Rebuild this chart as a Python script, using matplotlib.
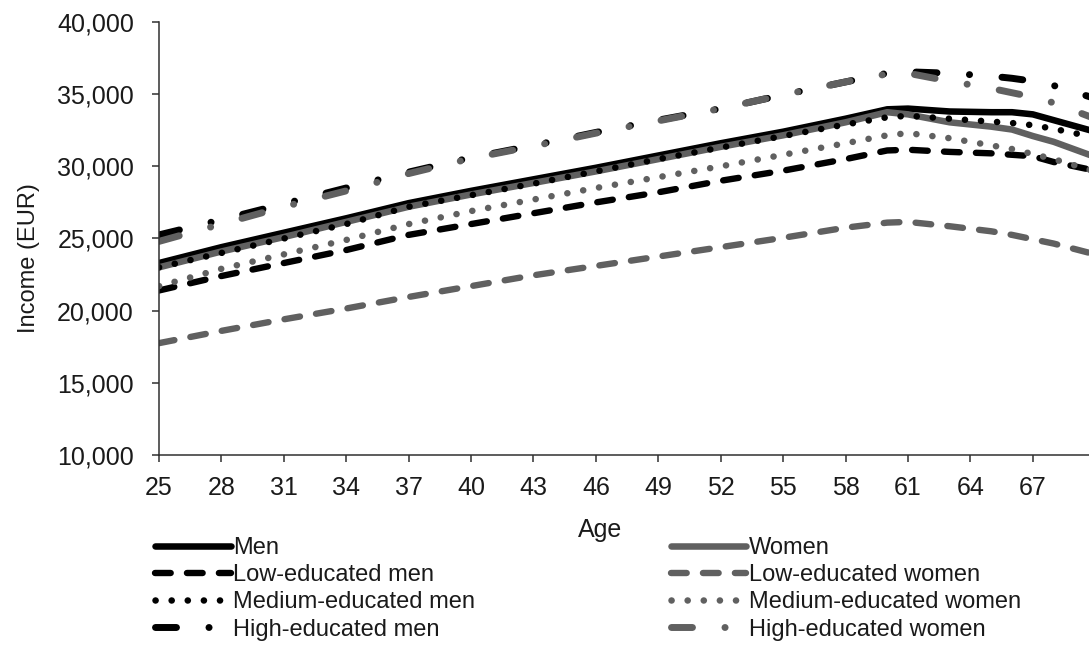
import matplotlib
matplotlib.use('Agg')
import matplotlib.pyplot as plt
from matplotlib.ticker import FuncFormatter

plt.rcParams['font.family'] = ['Liberation Sans', 'DejaVu Sans']
plt.rcParams['lines.scale_dashes'] = False

ages = [25, 28, 31, 34, 37, 40, 43, 46, 49, 52, 55, 58, 60, 61, 63, 65, 66, 67, 68, 70]

men = [23300, 24400, 25400, 26400, 27450, 28300, 29100, 29900, 30750, 31600, 32400, 33300,
       33950, 34000, 33800, 33750, 33750, 33600, 33200, 32400]
women = [23000, 24100, 25100, 26150, 27200, 28050, 28850, 29650, 30500, 31350, 32150, 33050,
         33750, 33600, 33050, 32750, 32550, 32100, 31700, 30650]
low_men = [21400, 22400, 23300, 24200, 25250, 26000, 26750, 27500, 28200, 29000, 29700, 30500,
           31100, 31150, 31000, 30900, 30800, 30700, 30300, 29700]
low_women = [17750, 18600, 19400, 20150, 20950, 21700, 22450, 23100, 23750, 24400, 25050, 25750,
             26100, 26150, 25850, 25500, 25250, 24950, 24650, 23900]
med_men = [23000, 24000, 25000, 26000, 27200, 28000, 28800, 29650, 30500, 31300, 32100, 32900,
           33400, 33500, 33300, 33100, 33000, 32850, 32600, 32000]
med_women = [21700, 22900, 23900, 24900, 26000, 26900, 27700, 28500, 29250, 30000, 30800, 31600,
             32150, 32300, 31950, 31450, 31200, 30850, 30500, 29650]
high_men = [25250, 26300, 27400, 28500, 29600, 30600, 31450, 32350, 33200, 34000, 34950, 35850,
            36450, 36550, 36450, 36250, 36100, 35900, 35600, 34700]
high_women = [24800, 26000, 27200, 28300, 29500, 30550, 31400, 32300, 33150, 34000, 34950, 35850,
              36400, 36450, 35900, 35400, 35100, 34800, 34400, 33300]

BLACK = '#000000'
GRAY = '#606060'
TXT = '#1a1a1a'

solid = '-'
dashed = (0, (11.3, 11.7))
dotted = (0, (0.1, 11.5))
dashdot = (0, (15.1, 23.4, 0.1, 23.4))

fig = plt.figure(figsize=(10.89, 6.46), dpi=100)
ax = fig.add_axes([159 / 1089, 191 / 646, 930 / 1089, 433 / 646])

series = [
    (men, 'Men', BLACK, solid, 4.7),
    (women, 'Women', GRAY, solid, 4.7),
    (low_men, 'Low-educated men', BLACK, dashed, 4.6),
    (low_women, 'Low-educated women', GRAY, dashed, 4.6),
    (med_men, 'Medium-educated men', BLACK, dotted, 4.7),
    (med_women, 'Medium-educated women', GRAY, dotted, 4.7),
    (high_men, 'High-educated men', BLACK, dashdot, 5.0),
    (high_women, 'High-educated women', GRAY, dashdot, 5.0),
]

lines = {}
for vals, name, col, ls, lw in series:
    ln, = ax.plot(ages, vals, color=col, linestyle=ls, linewidth=lw,
                  dash_capstyle='round', solid_capstyle='round', label=name)
    lines[name] = ln

ax.set_xlim(25, 69.7)
ax.set_ylim(10000, 40000)
ax.set_xticks(range(25, 70, 3))
ax.set_yticks(range(10000, 40001, 5000))
ax.yaxis.set_major_formatter(FuncFormatter(lambda v, p: '{:,}'.format(int(v))))

for s in ['top', 'right']:
    ax.spines[s].set_visible(False)
for s in ['left', 'bottom']:
    ax.spines[s].set_color('#303030')
    ax.spines[s].set_linewidth(1.1)

ax.tick_params(axis='both', direction='out', length=5, width=1.1, color='#303030',
               labelsize=18, labelcolor=TXT)
ax.tick_params(axis='y', pad=13)
ax.tick_params(axis='x', pad=10)

ax.set_ylabel('Income (EUR)', fontsize=17, color=TXT)
ax.yaxis.set_label_coords(-0.128, 0.455)
fig.text(600 / 1089, 1 - 530 / 646, 'Age', fontsize=18, color=TXT, ha='center', va='center')

order = ['Men', 'Low-educated men', 'Medium-educated men', 'High-educated men',
         'Women', 'Low-educated women', 'Medium-educated women', 'High-educated women']
fig.legend([lines[n] for n in order], order, loc='upper left',
           bbox_to_anchor=(155 / 1089, 1 - 537 / 646), ncol=2, frameon=False,
           fontsize=17, labelcolor=TXT, handlelength=3.2, handletextpad=0.1,
           columnspacing=8.3, labelspacing=0.22, borderpad=0, borderaxespad=0)

fig.savefig('out.png', dpi=100)
